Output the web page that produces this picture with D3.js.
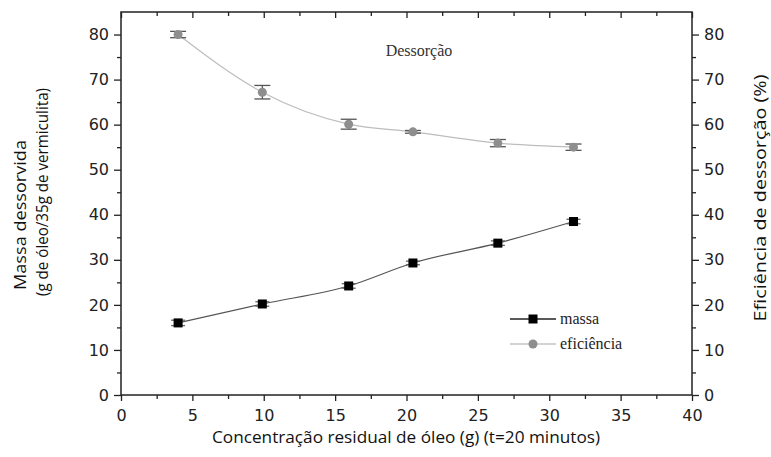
<!DOCTYPE html>
<html>
<head>
<meta charset="utf-8">
<script src="https://cdn.jsdelivr.net/npm/d3@7"></script>
<style>
  html, body { margin: 0; padding: 0; background: #fff; }
  svg { display: block; }
</style>
</head>
<body>
<svg id="chart" width="771" height="457"></svg>
<script>
// Residual oil concentration (g), t = 20 minutes
const concentracao = [4.0, 9.9, 15.95, 20.45, 26.4, 31.7];
// Desorbed mass (g of oil / 35 g of vermiculite) and its error
const massa = [16.0, 20.2, 24.2, 29.3, 33.7, 38.5];
const massaErro = [0.6, 0.5, 0.5, 0.4, 0.5, 0.5];
// Desorption efficiency (%) and its error
const eficiencia = [80.0, 67.2, 60.1, 58.4, 55.9, 55.0];
const eficienciaErro = [0.7, 1.5, 1.1, 0.3, 0.8, 0.7];

const xMajor = [0, 5, 10, 15, 20, 25, 30, 35, 40];
const xMinor = [2.5, 7.5, 12.5, 17.5, 22.5, 27.5, 32.5, 37.5];
const yMajor = [0, 10, 20, 30, 40, 50, 60, 70, 80];
const yMinor = [5, 15, 25, 35, 45, 55, 65, 75];

const W = 771, H = 457;
const m = { left: 121, right: 79, top: 12, bottom: 62 };
const svg = d3.select("#chart");

const x = d3.scaleLinear().domain([0, 40]).range([m.left, W - m.right]);
const yL = d3.scaleLinear().domain([0, 85]).range([H - m.bottom, m.top]);
const yR = d3.scaleLinear().domain([0, 85]).range([H - m.bottom, m.top]);

const tickFont = "'DejaVu Sans', sans-serif";
const titleFont = "'Open Sans', sans-serif";
const serifFont = "'Liberation Serif', 'Times New Roman', serif";

function styleAxis(g, labels) {
  g.select(".domain").remove();
  g.selectAll(".tick line").attr("stroke", "#222").attr("stroke-width", 1.3);
  if (labels) {
    g.selectAll(".tick text").attr("font-family", tickFont).attr("font-size", 16).attr("fill", "#222");
  } else {
    g.selectAll(".tick text").remove();
  }
}

// bottom axis
svg.append("g").attr("transform", `translate(0,${H - m.bottom})`)
  .call(d3.axisBottom(x).tickValues(xMajor).tickSize(6).tickPadding(9).tickFormat(d3.format("d")))
  .call(g => styleAxis(g, true));
svg.append("g").attr("transform", `translate(0,${H - m.bottom})`)
  .call(d3.axisBottom(x).tickValues(xMinor).tickSize(4))
  .call(g => styleAxis(g, false));

// top axis, ticks pointing into the plot
svg.append("g").attr("transform", `translate(0,${m.top})`)
  .call(d3.axisBottom(x).tickValues(xMajor).tickSize(6))
  .call(g => styleAxis(g, false));
svg.append("g").attr("transform", `translate(0,${m.top})`)
  .call(d3.axisBottom(x).tickValues(xMinor).tickSize(4))
  .call(g => styleAxis(g, false));

// left axis
svg.append("g").attr("transform", `translate(${m.left},0)`)
  .call(d3.axisLeft(yL).tickValues(yMajor).tickSize(7).tickPadding(5).tickFormat(d3.format("d")))
  .call(g => styleAxis(g, true));
svg.append("g").attr("transform", `translate(${m.left},0)`)
  .call(d3.axisLeft(yL).tickValues(yMinor).tickSize(4))
  .call(g => styleAxis(g, false));

// right axis
svg.append("g").attr("transform", `translate(${W - m.right},0)`)
  .call(d3.axisRight(yR).tickValues(yMajor).tickSize(7).tickPadding(5).tickFormat(d3.format("d")))
  .call(g => styleAxis(g, true));
svg.append("g").attr("transform", `translate(${W - m.right},0)`)
  .call(d3.axisRight(yR).tickValues(yMinor).tickSize(4))
  .call(g => styleAxis(g, false));

// plot frame
svg.append("rect")
  .attr("x", x(0)).attr("y", yL(85))
  .attr("width", x(40) - x(0)).attr("height", yL(0) - yL(85))
  .attr("fill", "none").attr("stroke", "#222").attr("stroke-width", 1.5);

const effData = concentracao.map((c, i) => ({ x: c, y: eficiencia[i], e: eficienciaErro[i] }));
const massData = concentracao.map((c, i) => ({ x: c, y: massa[i], e: massaErro[i] }));

// efficiency curve
svg.append("path")
  .datum(effData)
  .attr("fill", "none").attr("stroke", "#bdbdbd").attr("stroke-width", 1.2)
  .attr("d", d3.line().x(d => x(d.x)).y(d => yR(d.y)).curve(d3.curveMonotoneX));

// mass line
svg.append("path")
  .datum(massData)
  .attr("fill", "none").attr("stroke", "#555").attr("stroke-width", 1.2)
  .attr("d", d3.line().x(d => x(d.x)).y(d => yL(d.y)).curve(d3.curveMonotoneX));

function errorBars(data, yScale, color, cap) {
  const g = svg.append("g").attr("stroke", color).attr("stroke-width", 1.3);
  data.forEach(d => {
    const cx = x(d.x), y1 = yScale(d.y + d.e), y2 = yScale(d.y - d.e);
    g.append("line").attr("x1", cx).attr("x2", cx).attr("y1", y1).attr("y2", y2);
    g.append("line").attr("x1", cx - cap).attr("x2", cx + cap).attr("y1", y1).attr("y2", y1);
    g.append("line").attr("x1", cx - cap).attr("x2", cx + cap).attr("y1", y2).attr("y2", y2);
  });
}

errorBars(effData, yR, "#555", 8);
errorBars(massData, yL, "#666", 7);

// efficiency markers
svg.append("g").selectAll("circle").data(effData).join("circle")
  .attr("cx", d => x(d.x)).attr("cy", d => yR(d.y)).attr("r", 4.5)
  .attr("fill", "#8e8e8e");

// mass markers
const sq = 9;
svg.append("g").selectAll("rect").data(massData).join("rect")
  .attr("x", d => x(d.x) - sq / 2).attr("y", d => yL(d.y) - sq / 2)
  .attr("width", sq).attr("height", sq).attr("fill", "#000");

// annotation
svg.append("text").attr("x", 419).attr("y", 56).attr("text-anchor", "middle")
  .attr("font-family", serifFont).attr("font-size", 16).attr("fill", "#333")
  .text("Dessorção");

// legend
const leg = svg.append("g");
leg.append("line").attr("x1", 510).attr("x2", 556).attr("y1", 319).attr("y2", 319)
  .attr("stroke", "#222").attr("stroke-width", 1.3);
leg.append("rect").attr("x", 533 - sq / 2).attr("y", 319 - sq / 2).attr("width", sq).attr("height", sq).attr("fill", "#000");
leg.append("text").attr("x", 560).attr("y", 324).attr("font-family", serifFont).attr("font-size", 16).attr("fill", "#222").text("massa");
leg.append("line").attr("x1", 510).attr("x2", 556).attr("y1", 344).attr("y2", 344)
  .attr("stroke", "#c4c4c4").attr("stroke-width", 1.3);
leg.append("circle").attr("cx", 533).attr("cy", 344).attr("r", 4.5).attr("fill", "#8e8e8e");
leg.append("text").attr("x", 560).attr("y", 349).attr("font-family", serifFont).attr("font-size", 16).attr("fill", "#222").text("eficiência");

// axis titles
svg.append("text").attr("x", 406).attr("y", 443).attr("text-anchor", "middle")
  .attr("font-family", titleFont).attr("font-size", 16).attr("fill", "#111")
  .attr("textLength", 388).attr("lengthAdjust", "spacingAndGlyphs")
  .text("Concentração residual de óleo (g) (t=20 minutos)");

svg.append("text").attr("transform", "translate(26,215) rotate(-90)").attr("text-anchor", "middle")
  .attr("font-family", titleFont).attr("font-size", 16).attr("fill", "#111")
  .attr("textLength", 150).attr("lengthAdjust", "spacingAndGlyphs")
  .text("Massa dessorvida");
svg.append("text").attr("transform", "translate(48,192) rotate(-90)").attr("text-anchor", "middle")
  .attr("font-family", titleFont).attr("font-size", 16).attr("fill", "#111")
  .attr("textLength", 208).attr("lengthAdjust", "spacingAndGlyphs")
  .text("(g de óleo/35g de vermiculita)");

svg.append("text").attr("transform", "translate(766,198) rotate(-90)").attr("text-anchor", "middle")
  .attr("font-family", titleFont).attr("font-size", 16.5).attr("fill", "#111")
  .attr("textLength", 247).attr("lengthAdjust", "spacingAndGlyphs")
  .text("Eficiência de dessorção (%)");
</script>
</body>
</html>
